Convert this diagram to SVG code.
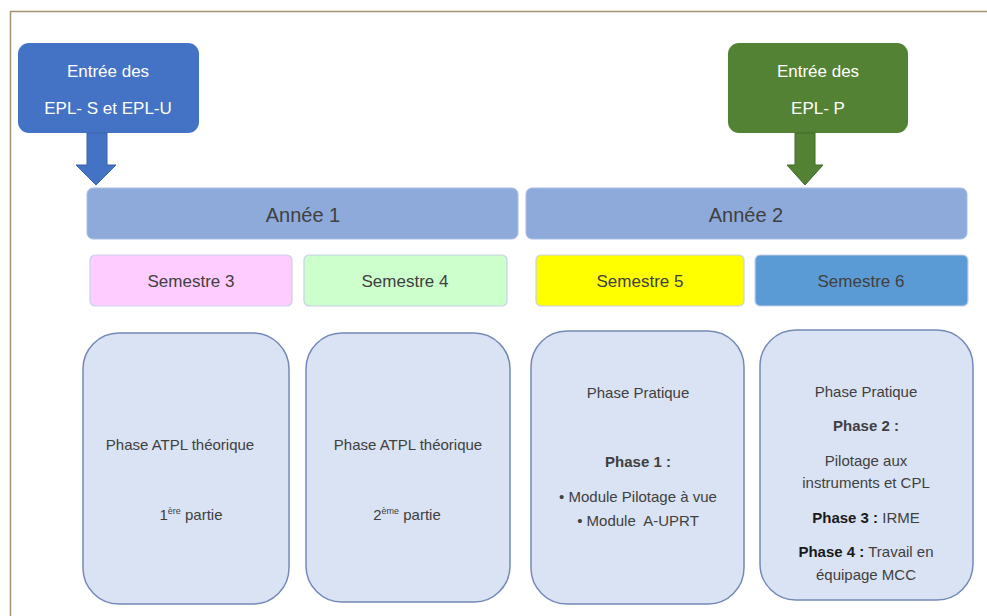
<svg xmlns="http://www.w3.org/2000/svg" width="987" height="616" viewBox="0 0 987 616">
<style>
text{font-family:"Liberation Sans",Arial,sans-serif;text-anchor:middle}
.entry{fill:#fff;font-size:17px}
.year rect{fill:#8EAADB;stroke:#a9bde3;stroke-width:1}
.year text{fill:#404040;font-size:20px}
.sem rect{stroke:#c7d1e8;stroke-width:1.2}
.sem text{fill:#404040;font-size:17px}
.phase rect{fill:#DAE3F3;stroke:#7489b8;stroke-width:1.5}
.phase text{fill:#404040;font-size:15px}
.b{font-weight:bold;fill:#1a1a1a}
.sup{font-size:9px}
</style>
<rect width="987" height="616" fill="#fff"/>
<path d="M10.5,616 V11.5 H987" fill="none" stroke="#a3946e" stroke-width="1.5"/>
<g id="entry-s-u">
<rect x="18" y="43" width="181" height="90" rx="11" fill="#4472C4"/>
<text class="entry" x="108" y="77">Entrée des</text>
<text class="entry" x="108" y="114">EPL- S et EPL-U</text>
</g>
<g id="entry-p">
<rect x="728" y="43" width="180" height="90" rx="11" fill="#548235"/>
<text class="entry" x="818" y="77">Entrée des</text>
<text class="entry" x="818" y="114">EPL- P</text>
</g>
<g id="connectors">
<polygon points="87,133 107,133 107,165 116,165 96,185 76,165 87,165" fill="#4472C4" stroke="#3a63ad" stroke-width="1"/>
<polygon points="795,133 815,133 815,165 823,165 805,185 787,165 795,165" fill="#548235" stroke="#41692a" stroke-width="1"/>
</g>
<g id="annee1" class="year">
<rect x="87" y="188" width="431" height="51" rx="6"/>
<text x="303" y="222">Année 1</text>
</g>
<g id="annee2" class="year">
<rect x="526" y="188" width="441" height="51" rx="6"/>
<text x="746" y="222">Année 2</text>
</g>
<g id="sem3" class="sem">
<rect x="90" y="255" width="202" height="51" rx="5" fill="#FFCCFF"/>
<text x="191" y="287">Semestre 3</text>
</g>
<g id="sem4" class="sem">
<rect x="304" y="255" width="203" height="51" rx="5" fill="#CCFFCC"/>
<text x="405" y="287">Semestre 4</text>
</g>
<g id="sem5" class="sem">
<rect x="536" y="255" width="208" height="51" rx="5" fill="#FFFF00"/>
<text x="640" y="287">Semestre 5</text>
</g>
<g id="sem6" class="sem">
<rect x="755" y="255" width="213" height="51" rx="5" fill="#5B9BD5"/>
<text x="861" y="287">Semestre 6</text>
</g>
<g id="phase-s3" class="phase">
<rect x="83" y="333" width="206" height="271" rx="36"/>
<text x="180" y="450">Phase ATPL théorique</text>
<text x="191" y="520">1<tspan class="sup" dy="-6">ère</tspan><tspan dy="6"> partie</tspan></text>
</g>
<g id="phase-s4" class="phase">
<rect x="306" y="333" width="204" height="269" rx="36"/>
<text x="408" y="450">Phase ATPL théorique</text>
<text x="407" y="520">2<tspan class="sup" dy="-6">ème</tspan><tspan dy="6"> partie</tspan></text>
</g>
<g id="phase-s5" class="phase">
<rect x="531" y="331" width="213" height="273" rx="36"/>
<text x="638" y="398">Phase Pratique</text>
<text x="638" y="467" class="b">Phase 1 :</text>
<text x="638" y="502">• Module Pilotage à vue</text>
<text x="638" y="526" xml:space="preserve">• Module  A-UPRT</text>
</g>
<g id="phase-s6" class="phase">
<rect x="760" y="330" width="213" height="270" rx="36"/>
<text x="866" y="397">Phase Pratique</text>
<text x="866" y="431" class="b">Phase 2 :</text>
<text x="866" y="466">Pilotage aux</text>
<text x="866" y="488">instruments et CPL</text>
<text x="866" y="523"><tspan class="b">Phase 3 :</tspan> IRME</text>
<text x="866" y="557"><tspan class="b">Phase 4 :</tspan> Travail en</text>
<text x="866" y="580">équipage MCC</text>
</g>
</svg>
